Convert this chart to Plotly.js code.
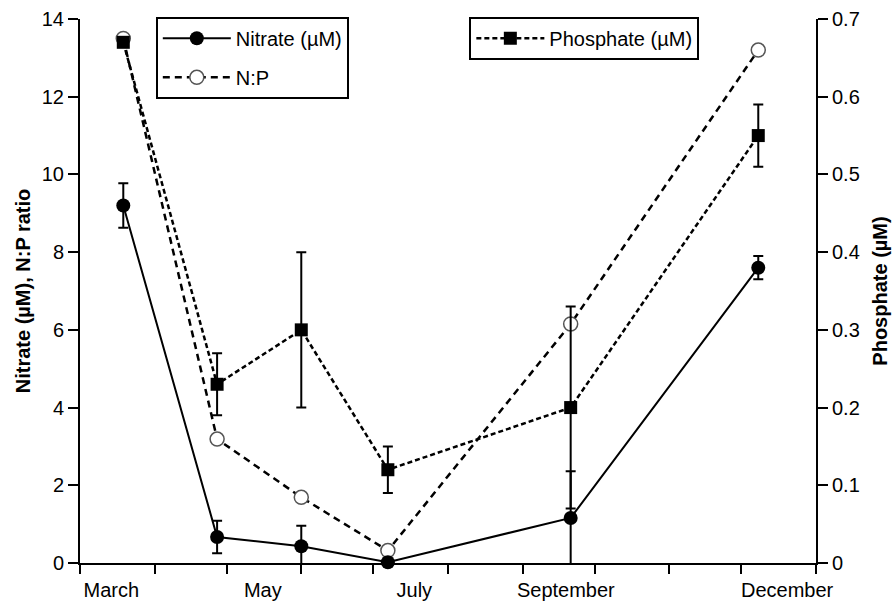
<!DOCTYPE html>
<html>
<head>
<meta charset="utf-8">
<script src="https://cdn.plot.ly/plotly-3.0.1.min.js"></script>
<style>html,body{margin:0;padding:0;background:#fff;}#chart{width:895px;height:602px;}</style>
</head>
<body>
<div id="chart"></div>
<script>
// sampling dates
const dates = ['2000-03-19','2000-04-27','2000-06-01','2000-07-07','2000-09-21','2000-12-08'];
// Nitrate (µM)
const nitrate = [9.2, 0.67, 0.43, 0.02, 1.16, 7.6];
const nitrateErr = [0.57, 0.42, 0.53, 0, 1.2, 0.3];
// N:P ratio
const npRatio = [13.5, 3.19, 1.69, 0.32, 6.15, 13.2];
// Phosphate (µM)
const phosphate = [0.67, 0.23, 0.30, 0.12, 0.20, 0.55];
const phosphateErr = [0, 0.04, 0.10, 0.03, 0.13, 0.04];
// x-axis month boundaries and labels
const monthBounds = ['2000-03-01','2000-04-01','2000-05-01','2000-06-01','2000-07-01','2000-08-01','2000-09-01','2000-10-01','2000-11-01','2000-12-01','2001-01-01'];
const labelDates = ['2000-03-14','2000-05-16','2000-07-18','2000-09-19','2000-12-20'];
const labelText = ['March','May','July','September','December'];
const leftTicks = [0,2,4,6,8,10,12,14];
const rightTicks = [0,0.1,0.2,0.3,0.4,0.5,0.6,0.7];

const FONT = 'Liberation Sans, Arial, sans-serif';

const traces = [
  {
    x: dates, y: npRatio, name: 'N:P', type: 'scatter', mode: 'lines+markers',
    line: {color: '#000', width: 2.5, dash: '7px,5px'},
    marker: {symbol: 'circle', size: 14, color: '#fff', line: {color: '#555', width: 1.5}},
    legend: 'legend', legendrank: 2, legendgroup: 'np', cliponaxis: false
  },
  {
    x: dates, y: nitrate, name: 'Nitrate (µM)', type: 'scatter', mode: 'lines+markers',
    line: {color: '#000', width: 2},
    marker: {symbol: 'circle', size: 14, color: '#000'},
    error_y: {type: 'data', array: nitrateErr, visible: true, color: '#000', thickness: 2, width: 5},
    legend: 'legend', legendrank: 1, legendgroup: 'no3', cliponaxis: false
  },
  {
    x: dates, y: phosphate, name: 'Phosphate (µM)', type: 'scatter', mode: 'lines+markers',
    yaxis: 'y2',
    line: {color: '#000', width: 2.5, dash: '5px,3px'},
    marker: {symbol: 'square', size: 13, color: '#000'},
    error_y: {type: 'data', array: phosphateErr, visible: true, color: '#000', thickness: 2, width: 5},
    legend: 'legend2', cliponaxis: false
  }
];

const layout = {
  width: 895, height: 602,
  margin: {l: 80, r: 79, t: 19, b: 39, pad: 0},
  paper_bgcolor: '#fff', plot_bgcolor: '#fff',
  font: {family: FONT, size: 20, color: '#000'},
  showlegend: true,
  xaxis: {
    type: 'date',
    range: ['2000-03-01', '2001-01-01'],
    tickmode: 'array', tickvals: labelDates, ticktext: labelText,
    ticks: 'outside', ticklen: 8, tickcolor: 'rgba(0,0,0,0)',
    minor: {tickmode: 'array', tickvals: monthBounds, ticks: 'outside', ticklen: 9, tickwidth: 2, tickcolor: '#000', showgrid: false},
    showline: true, linecolor: '#000', linewidth: 2,
    showgrid: false, zeroline: false,
    tickfont: {size: 20}
  },
  yaxis: {
    range: [0, 14], tickvals: leftTicks,
    ticks: 'outside', ticklen: 10, tickwidth: 2, tickcolor: '#000',
    showline: true, linecolor: '#000', linewidth: 2,
    showgrid: false, zeroline: false,
    tickfont: {size: 20},
    title: {text: '<b>Nitrate (µM), N:P ratio</b>', font: {size: 20}, standoff: 6}
  },
  yaxis2: {
    overlaying: 'y', side: 'right',
    range: [0, 0.7], tickvals: rightTicks,
    ticktext: rightTicks.map(v => v === 0 ? '0' : v.toFixed(1)),
    ticks: 'outside', ticklen: 10, tickwidth: 2, tickcolor: '#000',
    showline: true, linecolor: '#000', linewidth: 2,
    showgrid: false, zeroline: false,
    tickfont: {size: 20},
    title: {text: '<b>Phosphate (µM)</b>', font: {size: 20}, standoff: 14}
  },
  legend: {
    x: 0.103, y: 1.004, xanchor: 'left', yanchor: 'top',
    bgcolor: '#fff', bordercolor: '#000', borderwidth: 2,
    font: {size: 20}, traceorder: 'grouped', tracegroupgap: 10, itemwidth: 68
  },
  legend2: {
    x: 0.529, y: 1.004, xanchor: 'left', yanchor: 'top',
    bgcolor: '#fff', bordercolor: '#000', borderwidth: 2,
    font: {size: 20}, itemwidth: 68
  }
};

Plotly.newPlot('chart', traces, layout, {displayModeBar: false, staticPlot: true});
</script>
</body>
</html>
